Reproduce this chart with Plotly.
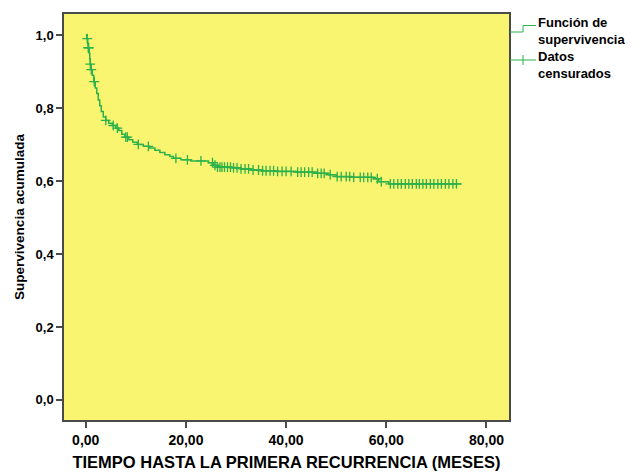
import numpy as np
import plotly.graph_objects as go

# Kaplan-Meier estimate: survival level reached after each step (time in months)
t_paso = [0.0, 0.2, 0.4, 0.5, 0.7, 0.8, 0.9, 1.1, 1.3, 1.6, 1.9, 2.2, 2.5, 2.8, 3.1,
          3.5, 4.0, 4.6, 5.3, 6.0, 6.6, 7.2, 7.8, 8.6, 9.4, 10.3, 11.5, 12.8, 13.8,
          14.8, 15.8, 16.8, 17.5, 19.0, 21.0, 24.5, 25.5, 26.0, 29.0, 31.0, 33.0,
          35.0, 38.0, 42.0, 46.0, 48.5, 50.0, 53.0, 57.5, 58.5, 60.5]
s_paso = [1.000, 0.990, 0.975, 0.965, 0.950, 0.935, 0.920, 0.905, 0.890, 0.872,
          0.855, 0.840, 0.822, 0.806, 0.790, 0.775, 0.766, 0.758, 0.752, 0.745,
          0.738, 0.728, 0.720, 0.713, 0.706, 0.700, 0.695, 0.690, 0.684, 0.678,
          0.672, 0.667, 0.662, 0.658, 0.655, 0.650, 0.643, 0.638, 0.636, 0.633,
          0.630, 0.628, 0.626, 0.624, 0.621, 0.617, 0.612, 0.610, 0.606, 0.598,
          0.592]
t_final = 75.0

# Censored observations (months)
t_censura = [0.3, 0.5, 0.6, 0.9, 1.1, 1.7, 4.0, 5.5, 6.3, 8.0, 8.3, 10.5, 12.5,
             18.0, 20.3, 23.0, 25.3, 25.8, 26.3, 26.8, 27.2, 27.7, 28.3, 28.9,
             29.5, 30.2, 31.0, 31.8, 32.5, 33.4, 34.5, 35.3, 36.0, 36.8, 37.5,
             38.3, 39.2, 40.0, 41.0, 42.3, 43.0, 43.7, 44.5, 45.2, 46.3, 47.0,
             47.6, 48.8, 50.2, 51.0, 52.0, 52.7, 53.5, 54.8, 55.5, 56.3, 57.0,
             58.2, 59.0, 60.8, 61.5, 62.3, 63.0, 63.8, 64.5, 65.2, 66.0, 66.6,
             67.3, 68.0, 68.8, 69.5, 70.3, 71.0, 71.8, 72.5, 73.3, 74.0]

x_ticks = [0, 20, 40, 60, 80]
y_ticks = [0.0, 0.2, 0.4, 0.6, 0.8, 1.0]

VERDE = "#2DB14B"
FONDO = "#FAF571"
FUENTE = "Liberation Sans, Arial, sans-serif"

# survival value at each censoring time, read from the step function
idx = np.searchsorted(t_paso, t_censura, side="right") - 1
s_censura = [s_paso[i] for i in idx]

fig = go.Figure()
fig.add_trace(go.Scatter(
    x=t_paso + [t_final], y=s_paso + [s_paso[-1]],
    mode="lines", line=dict(color=VERDE, width=1.5, shape="hv"),
    showlegend=False, hoverinfo="skip"))
fig.add_trace(go.Scatter(
    x=t_censura, y=s_censura, mode="markers",
    marker=dict(symbol="cross-thin", size=7, line=dict(color=VERDE, width=1.3)),
    showlegend=False, hoverinfo="skip"))

W, H = 638, 472
ML, MR, MT, MB = 64, 129, 14, 52
PW, PH = W - ML - MR, H - MT - MB


def px(x):
    return (x - ML) / PW


def py(y):
    return (H - MB - y) / PH


# hand-drawn legend to the right of the plot area
shapes = [
    dict(type="path", xref="paper", yref="paper",
         path=f"M {px(510)},{py(32)} L {px(523)},{py(32)} L {px(523)},{py(25.5)} L {px(536)},{py(25.5)}",
         line=dict(color=VERDE, width=1)),
    dict(type="line", xref="paper", yref="paper",
         x0=px(510), x1=px(536), y0=py(60), y1=py(60), line=dict(color=VERDE, width=1)),
    dict(type="line", xref="paper", yref="paper",
         x0=px(523), x1=px(523), y0=py(55), y1=py(65), line=dict(color=VERDE, width=1)),
]
leyenda = [("Función de<br>supervivencia", 31.0), ("Datos<br>censurados", 64.5)]
annotations = [
    dict(text=t, xref="paper", yref="paper", x=px(537), y=py(yc),
         xanchor="left", yanchor="middle", align="left", showarrow=False,
         borderpad=0,
         font=dict(family=FUENTE, size=13, color="black", weight="bold"))
    for t, yc in leyenda
]

eje = dict(showline=True, linecolor="#4a4a4a", linewidth=1.5, mirror=True,
           ticks="outside", ticklen=6, tickwidth=1.5, tickcolor="#4a4a4a",
           showgrid=False, zeroline=False)

fig.update_layout(
    width=W, height=H,
    margin=dict(l=ML, r=MR, t=MT, b=MB, autoexpand=False),
    paper_bgcolor="white", plot_bgcolor=FONDO,
    separators=",.",
    shapes=shapes, annotations=annotations,
    xaxis=dict(eje, range=[-4.34, 84.5], tickvals=x_ticks, tickformat=".2f",
               tickfont=dict(family=FUENTE, size=14, color="black", weight="bold"),
               title=dict(text="TIEMPO HASTA LA PRIMERA RECURRENCIA (MESES)",
                          font=dict(family=FUENTE, size=16.5, color="black", weight="bold"),
                          standoff=10)),
    yaxis=dict(eje, range=[-0.055, 1.0575], tickvals=y_ticks, tickformat=".1f",
               tickfont=dict(family=FUENTE, size=13, color="black", weight="bold"),
               title=dict(text="Supervivencia acumulada",
                          font=dict(family=FUENTE, size=13.5, color="black", weight="bold"),
                          standoff=8)),
)

fig.write_html("out.html")
